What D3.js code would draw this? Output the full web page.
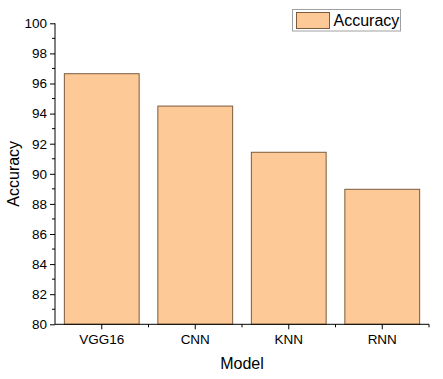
<!DOCTYPE html>
<html><head><meta charset="utf-8">
<script src="https://cdn.jsdelivr.net/npm/d3@7"></script>
<style>body{margin:0;background:#fff}svg{display:block}text{font-family:Arial,"Liberation Sans",sans-serif;fill:#000}</style>
</head><body>
<script>
const categories = ["VGG16", "CNN", "KNN", "RNN"];
const accuracy = [96.65, 94.5, 91.43, 88.97];
const yTicks = [80, 82, 84, 86, 88, 90, 92, 94, 96, 98, 100];
const seriesName = "Accuracy";

const W = 443, H = 379;
const mLeft = 55, mRight = 429, mTop = 23.3, mBottom = 324.3;
const svg = d3.select("body").append("svg").attr("width", W).attr("height", H);

const x = d3.scaleBand().domain(categories).range([mLeft, mRight]).paddingInner(0.2).paddingOuter(0.1);
const y = d3.scaleLinear().domain([80, 100]).range([mBottom, mTop]);

const fill = "#FDC997", stroke = "#7B5B3C";

svg.append("g").selectAll("rect").data(categories).join("rect")
  .attr("x", d => x(d)).attr("width", x.bandwidth())
  .attr("y", (d, i) => y(accuracy[i])).attr("height", (d, i) => y(80) - y(accuracy[i]))
  .attr("fill", fill).attr("stroke", stroke).attr("stroke-width", 1);

// y axis
const yAxis = d3.axisLeft(y).tickValues(yTicks).tickSize(5).tickPadding(3).tickFormat(d3.format("d"));
const gy = svg.append("g").attr("transform", `translate(${mLeft},0)`).call(yAxis);
gy.select(".domain").attr("d", `M0,${mTop}V${mBottom}`).attr("stroke", "#000");
gy.selectAll("text").style("font-size", "13.5px");
const minorY = d3.range(81, 100, 2);
svg.append("g").selectAll("line").data(minorY).join("line")
  .attr("x1", mLeft - 3).attr("x2", mLeft).attr("y1", d => y(d)).attr("y2", d => y(d)).attr("stroke", "#000");

// x axis
const xAxis = d3.axisBottom(x).tickSize(5).tickPadding(5);
const gx = svg.append("g").attr("transform", `translate(0,${mBottom})`).call(xAxis);
gx.select(".domain").attr("d", `M${mLeft},0H${mRight}`).attr("stroke", "#000");
gx.selectAll("text").style("font-size", "13.5px");
const bounds = categories.map((d, i) => mLeft + (i + 1) * (mRight - mLeft) / categories.length);
svg.append("g").selectAll("line").data(bounds).join("line")
  .attr("x1", d => d).attr("x2", d => d).attr("y1", mBottom).attr("y2", mBottom + 3).attr("stroke", "#000");

// axis titles
svg.append("text").attr("x", (mLeft + mRight) / 2).attr("y", 369).attr("text-anchor", "middle")
  .style("font-size", "16px").text("Model");
svg.append("text").attr("transform", `translate(18.5,${(mTop + mBottom) / 2}) rotate(-90)`).attr("text-anchor", "middle")
  .style("font-size", "16px").text("Accuracy");

// legend
const lg = svg.append("g");
lg.append("rect").attr("x", 292.5).attr("y", 9.5).attr("width", 108).attr("height", 21.5)
  .attr("fill", "#fff").attr("stroke", "#a0a0a0");
lg.append("rect").attr("x", 296.5).attr("y", 12.5).attr("width", 33).attr("height", 16)
  .attr("fill", fill).attr("stroke", stroke);
lg.append("text").attr("x", 333.5).attr("y", 26).style("font-size", "16px").text(seriesName);
</script>
</body></html>
